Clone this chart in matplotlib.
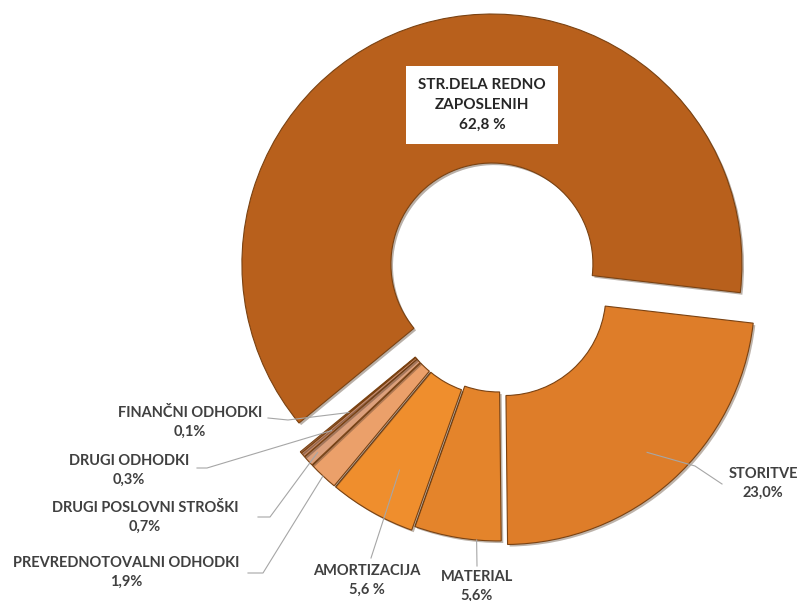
import numpy as np
import matplotlib.pyplot as plt
import matplotlib.patheffects as pe

# data
categories = ['STR.DELA REDNO\nZAPOSLENIH', 'STORITVE', 'MATERIAL', 'AMORTIZACIJA',
              'PREVREDNOTOVALNI ODHODKI', 'DRUGI POSLOVNI STROŠKI', 'DRUGI ODHODKI',
              'FINANČNI ODHODKI']
shares = [62.8, 23.0, 5.6, 5.6, 1.9, 0.7, 0.3, 0.1]
share_labels = ['62,8 %', '23,0%', '5,6%', '5,6 %', '1,9%', '0,7%', '0,3%', '0,1%']

colors = ['#b8601c', '#de7d29', '#e4842b', '#ef8e2d', '#eba06a', '#dca07c', '#c68b6a', '#ad7a68']
explode_frac = [0.1, 0.035, 0.012, 0.03, 0.03, 0.03, 0.03, 0.03]

W, H = 800, 601
R = 250
cx, cy = 499, H - 288

plt.rcParams['font.family'] = ['Lato', 'DejaVu Sans']

fig = plt.figure(figsize=(W / 100, H / 100), dpi=100)
ax = fig.add_axes([0, 0, 1, 1])

wedges, _ = ax.pie(shares, colors=colors, explode=[f * R for f in explode_frac],
                   startangle=219.5, counterclock=False, radius=R, center=(cx, cy),
                   wedgeprops=dict(width=149, edgecolor='#7a4212', linewidth=0.8))
for w in wedges:
    w.set_path_effects([pe.SimplePatchShadow(offset=(1.5, -1.5), alpha=0.35), pe.Normal()])

ax.set_xlim(0, W)
ax.set_ylim(0, H)
ax.set_aspect('equal')
ax.axis('off')

def py(y):
    return H - y

def anchor(w, t, rf):
    a = np.deg2rad(w.theta1 + t * (w.theta2 - w.theta1))
    return w.center[0] + rf * w.r * np.cos(a), w.center[1] + rf * w.r * np.sin(a)

# big label in white box
ax.text(482, py(105), categories[0] + '\n' + share_labels[0], ha='center', va='center',
        fontsize=11, fontweight='bold', color='#262626', linespacing=1.55,
        bbox=dict(boxstyle='square,pad=0.8', fc='white', ec='none'))

# small labels: text position, leader start points, anchor inside wedge
layout = {
    1: ((763, 483), [(722, 484), (695, 466)], 0.5, 0.85),
    2: ((477, 586), [(477, 566)], 0.72, 1.0),
    3: ((367, 580), [(371, 558)], 0.55, 0.8),
    4: ((126, 572), [(248, 573), (263, 573)], 0.5, 1.0),
    5: ((145, 517), [(258, 517), (270, 517)], 0.5, 0.95),
    6: ((129, 470), [(197, 468), (207, 468)], 0.5, 0.85),
    7: ((190, 422), [(268, 418), (288, 420)], 0.5, 0.75),
}
for i, (txt, pts, t, rf) in layout.items():
    ax.text(txt[0], py(txt[1]), categories[i] + '\n' + share_labels[i], ha='center',
            va='center', fontsize=10.5, fontweight='bold', color='#404040', linespacing=1.45)
    ax_pt = anchor(wedges[i], t, rf)
    xs = [p[0] for p in pts] + [ax_pt[0]]
    ys = [py(p[1]) for p in pts] + [ax_pt[1]]
    ax.plot(xs, ys, color='#a6a6a6', lw=0.8, zorder=3)

fig.savefig('out.png', dpi=100)
